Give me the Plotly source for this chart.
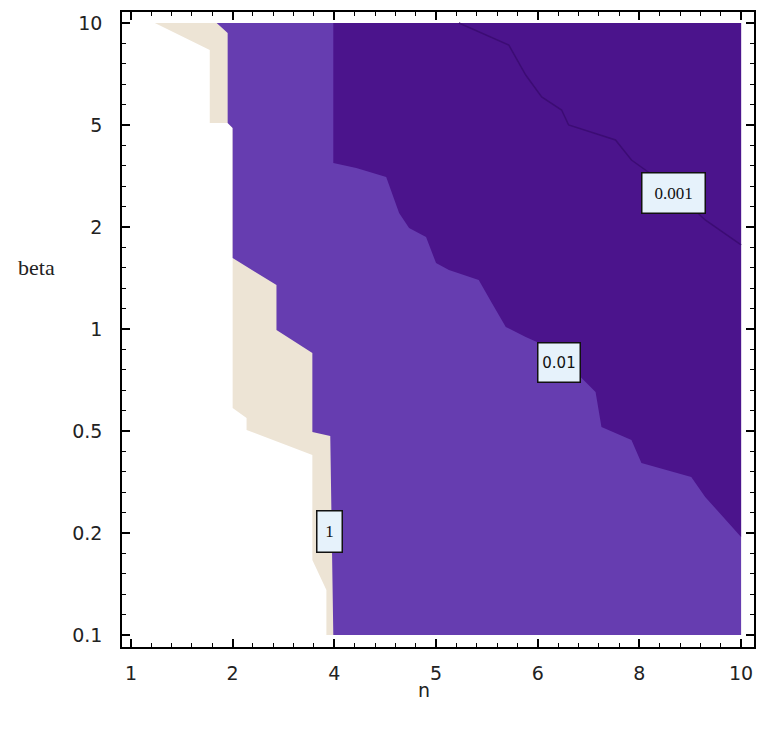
import plotly.graph_objects as go

# Axis tick labels (the chart uses evenly spaced index positions)
x_tick_labels = ["1", "2", "4", "5", "6", "8", "10"]
y_tick_labels = ["0.1", "0.2", "0.5", "1", "2", "5", "10"]
x_tick_pos = list(range(len(x_tick_labels)))
y_tick_pos = list(range(len(y_tick_labels)))

# Region boundaries (index coordinates), top to bottom
# white | beige boundary
b_white_u = [0.235, 0.775, 0.775, 0.951, 1.0, 1.0, 1.0, 1.137, 1.137, 1.784, 1.784, 1.922, 1.922]
b_white_v = [6.0, 5.735, 5.02, 5.02, 4.97, 3.696, 2.225, 2.127, 2.01, 1.765, 0.735, 0.441, 0.0]
# beige | level-1 region boundary (contour "1")
b_one_u = [0.843, 0.951, 0.951, 1.0, 1.0, 1.431, 1.431, 1.784, 1.784, 1.96, 1.99]
b_one_v = [6.0, 5.902, 5.02, 4.97, 3.696, 3.431, 2.99, 2.765, 1.99, 1.95, 0.0]
# contour "0.01"
b_001_u = [1.99, 1.99, 2.216, 2.51, 2.637, 2.735, 2.902, 3.0, 3.127, 3.42, 3.549, 3.686,
           3.882, 4.059, 4.304, 4.5, 4.569, 4.627, 4.922, 5.02, 5.51, 5.647, 6.0]
b_001_v = [6.0, 4.627, 4.578, 4.49, 4.137, 3.99, 3.902, 3.647, 3.578, 3.48, 3.255, 3.02,
           2.922, 2.843, 2.647, 2.451, 2.382, 2.039, 1.912, 1.686, 1.549, 1.353, 0.961]
# contour "0.001"
b_0001_u = [3.225, 3.716, 3.882, 4.039, 4.235, 4.304, 4.765, 4.922, 5.333, 5.647, 6.0]
b_0001_v = [6.0, 5.784, 5.49, 5.275, 5.147, 5.0, 4.853, 4.657, 4.363, 4.069, 3.824]

# Contour labels
label_text = ["1", "0.01", "0.001"]
label_u = [1.956, 4.206, 5.333]
label_v = [1.015, 2.672, 4.338]

U_MAX = float(x_tick_pos[-1])
V_MAX = float(y_tick_pos[-1])

fig = go.Figure()

def region(us, vs, color):
    xs = list(us) + [U_MAX, U_MAX, us[0]]
    ys = list(vs) + [0.0, V_MAX, vs[0]]
    fig.add_trace(go.Scatter(x=xs, y=ys, mode="lines", fill="toself",
                             fillcolor=color, line=dict(width=0, color=color),
                             hoverinfo="skip", showlegend=False))

region(b_white_u, b_white_v, "#ede4d5")
region(b_one_u, b_one_v, "#663db0")
region(b_001_u, b_001_v, "#4b148c")

fig.add_trace(go.Scatter(x=b_0001_u, y=b_0001_v, mode="lines",
                         line=dict(width=1.5, color="#3c0c74"),
                         hoverinfo="skip", showlegend=False))

fonts = ["Liberation Serif", "DejaVu Sans", "Liberation Serif"]
fsizes = [17, 15, 17]
sizes = [(22, 38), (39, 36), (60, 37)]
for t, u, v, f, fs, (w, h) in zip(label_text, label_u, label_v, fonts, fsizes, sizes):
    fig.add_annotation(x=u, y=v, xref="x", yref="y", text=t, showarrow=False,
                       font=dict(family=f, size=fs, color="#111"),
                       bgcolor="#e6f2fb", bordercolor="#111", borderwidth=1.5,
                       borderpad=1, width=w, height=h, xanchor="center", yanchor="middle")

fig.add_annotation(x=-0.1356, y=0.597, xref="paper", yref="paper", text="beta",
                   showarrow=False, font=dict(family="Liberation Serif", size=22, color="#222"),
                   xanchor="center", yanchor="middle")
fig.add_annotation(x=0.478, y=-0.068, xref="paper", yref="paper", text="n",
                   showarrow=False, font=dict(family="DejaVu Sans", size=19, color="#222"),
                   xanchor="center", yanchor="middle")

axis_common = dict(showline=True, linecolor="black", linewidth=1.5, mirror="ticks",
                   ticks="inside", ticklen=8, tickwidth=1.5, tickcolor="black",
                   showgrid=False, zeroline=False,
                   tickfont=dict(family="DejaVu Sans", size=19, color="#222"),
                   minor=dict(dtick=0.2, ticks="inside", ticklen=4, tickwidth=1,
                              tickcolor="black", showgrid=False))

fig.update_xaxes(range=[-0.088, 6.127], tickmode="array", tickvals=x_tick_pos,
                 ticktext=x_tick_labels, ticklabelstandoff=8, **axis_common)
fig.update_yaxes(range=[-0.118, 6.108], tickmode="array", tickvals=y_tick_pos,
                 ticktext=y_tick_labels, ticklabelstandoff=14, **axis_common)

fig.update_layout(width=757, height=733, margin=dict(l=122, r=1, t=12, b=86),
                  plot_bgcolor="white", paper_bgcolor="white")

fig.write_html("out.html")
